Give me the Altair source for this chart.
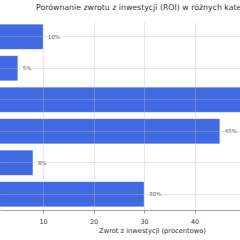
import altair as alt
import pandas as pd

kategorie = ["Akcje", "Obligacje", "Kryptowaluty", "Nieruchomości", "Lokaty", "Fundusze"]
roi = [10, 5, 62, 45, 8, 30]
etykiety = ["10%", "5%", "62%", "45%", "8%", "30%"]
x_ticks = [10, 20, 30, 40]

df = pd.DataFrame({"kategoria": kategorie, "roi": roi, "etykieta": etykiety})

yscale = alt.Scale(paddingInner=0.2, paddingOuter=0.1)
xscale = alt.Scale(domain=[1.485, 49.0], nice=False, zero=False)

base = alt.Chart(df).encode(
    y=alt.Y("kategoria:N", sort=None, scale=yscale,
            axis=alt.Axis(labels=False, ticks=False, domain=False, grid=True,
                          bandPosition=0.5, gridColor="#bbbbbb", gridOpacity=0.45,
                          gridWidth=0.8, title=None, zindex=1))
)

bars = base.mark_bar(color="#4169E1", clip=True, stroke="white",
                     strokeWidth=0.6, strokeOpacity=0.5).encode(
    x=alt.X("roi:Q", scale=xscale,
            axis=alt.Axis(values=x_ticks, grid=True, gridColor="#bbbbbb",
                          gridOpacity=0.45, gridWidth=0.8, zindex=1,
                          domainColor="#888888", domainWidth=0.8,
                          tickColor="#888888", tickSize=3, tickWidth=0.8,
                          labelFont="DejaVu Sans", labelFontSize=6.4,
                          labelColor="#333333", labelPadding=5,
                          title="Zwrot z inwestycji (procentowo)",
                          titleFont="DejaVu Sans", titleFontSize=6.7,
                          titleFontWeight="normal", titleColor="#333333",
                          titleX=152, titleY=17, titleAlign="center",
                          titleBaseline="top"))
)

text = base.mark_text(align="left", dx=5, fontSize=5.4, font="DejaVu Sans",
                      color="#555555", clip=True).encode(
    x=alt.X("roi:Q", scale=xscale),
    text="etykieta:N",
)

chart = (bars + text).properties(
    width=240, height=189,
    padding={"left": 0, "top": 21, "right": 0, "bottom": 30},
    autosize=alt.AutoSizeParams(type="none"),
    title=alt.TitleParams(
        "Porównanie zwrotu z inwestycji (ROI) w różnych kategoriach",
        anchor="start", dx=36, offset=9, font="DejaVu Sans", fontSize=7.8,
        fontWeight="normal", color="#333333"),
).configure_view(stroke=None)

chart.save("out.html", embed_options={"renderer": "svg", "actions": False})
